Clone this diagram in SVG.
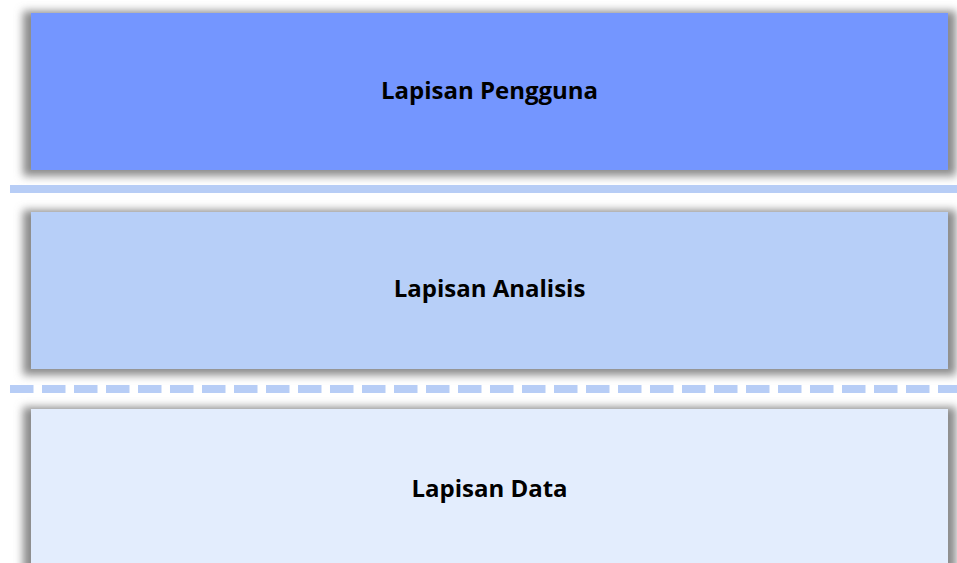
<svg xmlns="http://www.w3.org/2000/svg" width="957" height="563" viewBox="0 0 957 563">
  <defs>
    <filter id="soft" x="-5%" y="-20%" width="110%" height="140%">
      <feGaussianBlur stdDeviation="4"/>
    </filter>
    <style>
      .shadow { fill: #8a8a8a; filter: url(#soft); }
      .label { font-family: "Open Sans", "Liberation Sans", sans-serif; font-weight: bold; font-size: 24px; fill: #000; text-anchor: middle; }
      .sep { fill: #b7cdf6; }
      .dash { stroke: #b7cdf6; stroke-width: 8; stroke-dasharray: 23.5 8.5; fill: none; }
    </style>
  </defs>

  <rect width="957" height="563" fill="#ffffff"/>

  <!-- top layer -->
  <g id="layer-user">
    <rect class="shadow" x="23" y="11" width="933" height="165"/>
    <rect x="31" y="13" width="917" height="157" fill="#7496ff"/>
    <text class="label" x="489.5" y="98.5">Lapisan Pengguna</text>
  </g>

  <!-- middle layer -->
  <g id="layer-analysis">
    <rect class="shadow" x="23" y="210" width="933" height="165"/>
    <rect x="31" y="212" width="917" height="157" fill="#b7cff8"/>
    <text class="label" x="489.5" y="297">Lapisan Analisis</text>
  </g>

  <!-- bottom layer -->
  <g id="layer-data">
    <rect class="shadow" x="23" y="407" width="933" height="170"/>
    <rect x="31" y="409" width="917" height="160" fill="#e3edfd"/>
    <text class="label" x="489.5" y="496.5">Lapisan Data</text>
  </g>

  <!-- boundaries between layers -->
  <g id="connectors">
    <rect class="sep" x="10" y="185" width="947" height="8"/>
    <line class="dash" x1="10" y1="389" x2="957" y2="389"/>
  </g>
</svg>
